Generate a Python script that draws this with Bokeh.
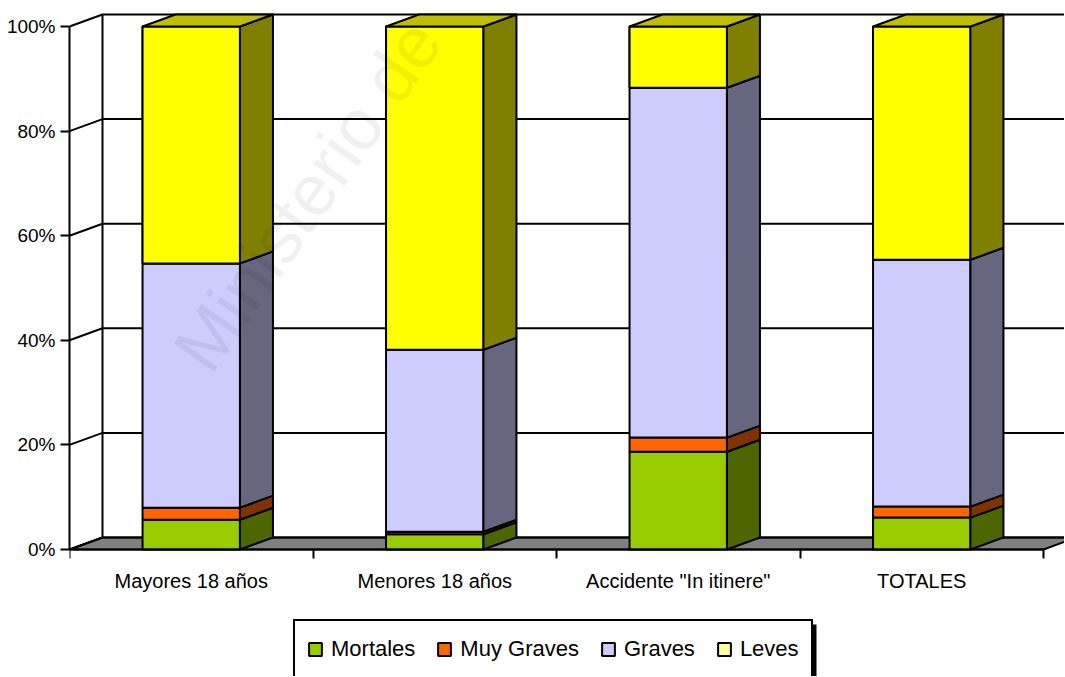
from bokeh.plotting import figure
from bokeh.models import (Range1d, LinearAxis, FixedTicker, PrintfTickFormatter,
                          Legend, LegendItem, BoxAnnotation)
from bokeh.embed import file_html
from bokeh.resources import INLINE
from bokeh.core.properties import value

# ---------------- data ----------------
categories = ["Mayores 18 años", "Menores 18 años", 'Accidente "In itinere"', "TOTALES"]
series = ["Mortales", "Muy Graves", "Graves", "Leves"]
mortales = [5.7, 2.9, 18.7, 6.1]
muy_graves = [2.3, 0.5, 2.7, 2.1]
graves = [46.7, 34.8, 66.9, 47.2]
leves = [45.3, 61.8, 11.7, 44.6]
y_ticks = [0, 20, 40, 60, 80, 100]

# ---------------- style ----------------
front_colors = ["#99CC00", "#FF6600", "#CCCCFF", "#FFFF00"]
side_colors = ["#4D6600", "#803300", "#666680", "#808000"]
top_color = "#BFBF00"
legend_colors = ["#99CC00", "#FF6600", "#CCCCFF", "#FFFF99"]
FONT = "Liberation Sans"

W, H = 1064, 676
LEFT, TOP = 69, 10          # frame offsets (px)
PX_PER_CAT = 243.5
PX_PER_PCT = 5.23
BASE_PX = 549               # page y of the 0 % line

DX = 33 / PX_PER_CAT        # depth offset (category units)
DY = 12 / PX_PER_PCT        # depth offset (percent units)
BAR_L, BAR_R = 0.30, 0.70
X_END = (W - LEFT) / PX_PER_CAT
Y_TOP = (BASE_PX - TOP) / PX_PER_PCT
Y_BOT = -(H - BASE_PX) / PX_PER_PCT


def px_x(px):
    return (px - LEFT) / PX_PER_CAT


def px_y(px):
    return (BASE_PX - px) / PX_PER_PCT


p = figure(width=W, height=H, output_backend="svg", toolbar_location=None,
           x_range=Range1d(0, X_END), y_range=Range1d(Y_BOT, Y_TOP),
           x_axis_type=None, y_axis_type=None,
           min_border_left=LEFT, min_border_right=0, min_border_top=TOP,
           min_border_bottom=0)
p.outline_line_color = None
p.background_fill_color = "white"
p.border_fill_color = "white"

n = len(categories)

# floor
p.patch([0, n, n + DX, DX], [0, 0, DY, DY], fill_color="#808080",
        line_color="black", line_width=2)

# back wall + gridlines (with the short diagonals from the front axis)
grid_xs = [[0, DX, X_END + 1] for v in y_ticks]
grid_ys = [[v, v + DY, v + DY] for v in y_ticks]
p.multi_line(grid_xs, grid_ys, line_color="black", line_width=2)
p.line([DX, DX], [DY, 100 + DY], line_color="black", line_width=2)

# bars (one renderer per series)
stack = [mortales, muy_graves, graves, leves]
lefts = [i + BAR_L for i in range(n)]
rights = [i + BAR_R for i in range(n)]
bottoms = [0.0] * n
legend_renderers = []
for s, vals in enumerate(stack):
    tops = [b + v for b, v in zip(bottoms, vals)]
    if legend_colors[s] != front_colors[s]:
        # same faces in the legend's swatch colour, fully covered by the real faces
        legend_renderers.append(
            p.quad(left=lefts, right=rights, bottom=bottoms, top=tops,
                   fill_color=legend_colors[s], line_color="black", line_width=2))
    r = p.quad(left=lefts, right=rights, bottom=bottoms, top=tops,
               fill_color=front_colors[s], line_color="black", line_width=2)
    if legend_colors[s] == front_colors[s]:
        legend_renderers.append(r)
    xs = [[x1, x1 + DX, x1 + DX, x1] for x1 in rights]
    ys = [[b, b + DY, t + DY, t] for b, t in zip(bottoms, tops)]
    p.patches(xs, ys, fill_color=side_colors[s], line_color="black", line_width=2)
    bottoms = tops
# top faces
xs = [[x0, x0 + DX, x1 + DX, x1] for x0, x1 in zip(lefts, rights)]
ys = [[t, t + DY, t + DY, t] for t in bottoms]
p.patches(xs, ys, fill_color=top_color, line_color="black", line_width=2)

# watermark
p.text(x=[px_x(190)], y=[px_y(362)], text=["Ministerio de"], angle=0.96,
       text_font=value(FONT), text_font_size="72px", text_color="#000000",
       text_alpha=0.06, text_baseline="alphabetic")

# axes
yaxis = LinearAxis(ticker=FixedTicker(ticks=y_ticks),
                   formatter=PrintfTickFormatter(format="%d%%"),
                   bounds=(0, 100))
yaxis.axis_line_width = 2
yaxis.major_tick_line_width = 2
yaxis.major_tick_out = 9
yaxis.major_tick_in = 0
yaxis.minor_tick_line_color = None
yaxis.major_label_standoff = 5
yaxis.major_label_text_font = FONT
yaxis.major_label_text_font_size = "19px"
yaxis.major_label_text_color = "black"
p.add_layout(yaxis, "left")

centers = [i + 0.5 for i in range(n)]
xaxis = LinearAxis(ticker=FixedTicker(ticks=centers, minor_ticks=list(range(n + 1))),
                   bounds=(0, n), fixed_location=0)
xaxis.major_label_overrides = {c: lab for c, lab in zip(centers, categories)}
xaxis.axis_line_width = 2
xaxis.major_tick_out = 0
xaxis.major_tick_in = 0
xaxis.minor_tick_out = 9
xaxis.minor_tick_in = 0
xaxis.minor_tick_line_width = 2
xaxis.major_label_standoff = 11
xaxis.major_label_text_font = FONT
xaxis.major_label_text_font_size = "20px"
xaxis.major_label_text_color = "black"
p.add_layout(xaxis, "below")

# legend shadow (drawn before the legend box)
shadow = BoxAnnotation(left=px_x(809), right=px_x(816), top=px_y(624), bottom=Y_BOT - 5,
                       fill_color="black", fill_alpha=1, line_color=None)
p.add_layout(shadow)

# legend
items = [LegendItem(label=name, renderers=[r]) for name, r in zip(series, legend_renderers)]
legend = Legend(items=items, orientation="horizontal", location=(224, -3))
legend.border_line_color = "black"
legend.border_line_alpha = 1
legend.border_line_width = 2
legend.background_fill_color = "white"
legend.background_fill_alpha = 1
legend.label_text_font = FONT
legend.label_text_font_size = "22px"
legend.label_text_color = "black"
legend.label_height = 32
legend.glyph_width = 16
legend.glyph_height = 16
legend.label_standoff = 8
legend.spacing = 21
legend.padding = 12
legend.margin = 0
p.add_layout(legend, "center")

open("out.html", "w").write(file_html(p, INLINE))
